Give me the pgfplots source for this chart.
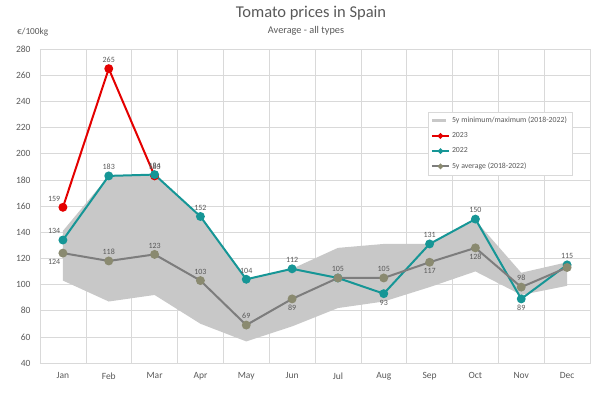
\documentclass[border=0pt]{standalone}
\usepackage{pgfplots}
\pgfplotsset{compat=1.18}
\usepackage{pgfplotstable}
\usepackage{fontspec}
\setmainfont{Carlito}
\definecolor{cred}{RGB}{228,0,0}
\definecolor{cteal}{RGB}{22,150,150}
\definecolor{cavgl}{RGB}{125,125,125}
\definecolor{cavgm}{RGB}{138,138,112}
\definecolor{cband}{RGB}{200,200,200}
\definecolor{cgrid}{RGB}{217,217,217}
\definecolor{ctext}{RGB}{89,89,89}

\pgfplotstableread{
x y a
0 159 -45
1 265 -90
2 183 -90
}\redtab
\pgfplotstableread{
x y a
0 134 -45
1 183 -90
2 184 -90
3 152 -90
4 104 -90
5 112 -90
6 105 -90
7 93 90
8 131 -90
9 150 -90
10 89 90
11 115 -90
}\tealtab
\pgfplotstableread{
x y a
0 134 -45
1 183 -90
2 184 -90
3 152 -90
4 104 -90
5 112 -90
7 93 90
8 131 -90
9 150 -90
10 89 90
11 115 -90
}\teallab
\pgfplotstableread{
x y a
0 124 45
1 118 -90
2 123 -90
3 103 -90
4 69 -90
5 89 90
6 105 -90
7 105 -90
8 117 90
9 128 90
10 98 -90
11 113 -90
}\avgtab
\pgfplotstableread{
x y a
0 124 45
1 118 -90
2 123 -90
3 103 -90
4 69 -90
5 89 90
6 105 -90
7 105 -90
8 117 90
9 128 90
10 98 -90
}\avglab

\begin{document}
\begin{tikzpicture}
\path[use as bounding box] (-40pt,-29pt) rectangle (560pt,363pt);
\begin{axis}[
  at={(0pt,0pt)}, anchor=south west,
  scale only axis, width=550pt, height=314pt,
  xmin=-0.5, xmax=11.5, ymin=40, ymax=280,
  xtick={0,...,11},
  xticklabels={Jan,Feb,Mar,Apr,May,Jun,Jul,Aug,Sep,Oct,Nov,Dec},
  minor xtick={-0.5,0.5,...,11.5},
  ytick={40,60,...,280},
  xminorgrids, ymajorgrids,
  grid style={draw=cgrid, line width=0.6pt},
  minor grid style={draw=cgrid, line width=0.6pt},
  major tick length=0pt, minor tick length=0pt,
  axis line style={draw=cgrid, line width=0.6pt},
  /pgf/number format/assume math mode=true,
  tick label style={font=\fontsize{9.5}{11}\selectfont, text=ctext},
  yticklabel style={xshift=-6pt},
  xticklabel style={yshift=-6pt},
  clip=false,
  legend style={at={(0.705,0.80)}, anchor=north west, draw=cgrid,
    font=\fontsize{7.8}{9}\selectfont, text=ctext, row sep=4.5pt,
    inner sep=3pt},
  legend cell align=left,
  legend image post style={mark size=1.6pt},
  every node near coord/.style={anchor=\anc, font=\fontsize{8}{9}\selectfont, text=ctext, inner sep=6pt},
]
\addplot[fill=cband, draw=none,
  legend image code/.code={\fill[cband] (0cm,-0.06cm) rectangle (0.5cm,0.06cm);}]
  coordinates {(0,141) (1,183) (2,183) (3,152) (4,104) (5,112) (6,128) (7,131) (8,131) (9,149) (10,109) (11,117)
               (11,99) (10,92) (9,110) (8,98) (7,87) (6,82) (5,68) (4,56.5) (3,70) (2,92) (1,87) (0,103)} -- cycle;
\addlegendentry{5y minimum/maximum (2018-2022)}
\addplot[cred, line width=2pt, mark=*, mark size=3.4pt, mark options={fill=cred, draw=cred}]
  table[x=x,y=y] {\redtab};
\addlegendentry{2023}
\addplot[cteal, line width=2pt, mark=*, mark size=3.4pt, mark options={fill=cteal, draw=cteal}]
  table[x=x,y=y] {\tealtab};
\addlegendentry{2022}
\addplot[cavgl, line width=2pt, mark=*, mark size=3.4pt, mark options={fill=cavgm, draw=cavgm}]
  table[x=x,y=y] {\avgtab};
\addlegendentry{5y average (2018-2022)}
\addplot[draw=none, mark=none, forget plot, nodes near coords, point meta=y,
  visualization depends on={\thisrow{a}\as\anc}] table[x=x,y=y] {\redtab};
\addplot[draw=none, mark=none, forget plot, nodes near coords, point meta=y,
  visualization depends on={\thisrow{a}\as\anc}] table[x=x,y=y] {\teallab};
\addplot[draw=none, mark=none, forget plot, nodes near coords, point meta=y,
  visualization depends on={\thisrow{a}\as\anc}] table[x=x,y=y] {\avglab};
\end{axis}
\node[font=\fontsize{16.5}{19}\selectfont, text=ctext] at (271pt,350pt) {Tomato prices in Spain};
\node[font=\fontsize{10.3}{12}\selectfont, text=ctext] at (266pt,332pt) {Average - all types};
\node[anchor=west, font=\fontsize{9.3}{11}\selectfont, text=ctext, inner sep=0pt] at (-23pt,331pt) {€/100kg};
\end{tikzpicture}
\end{document}
